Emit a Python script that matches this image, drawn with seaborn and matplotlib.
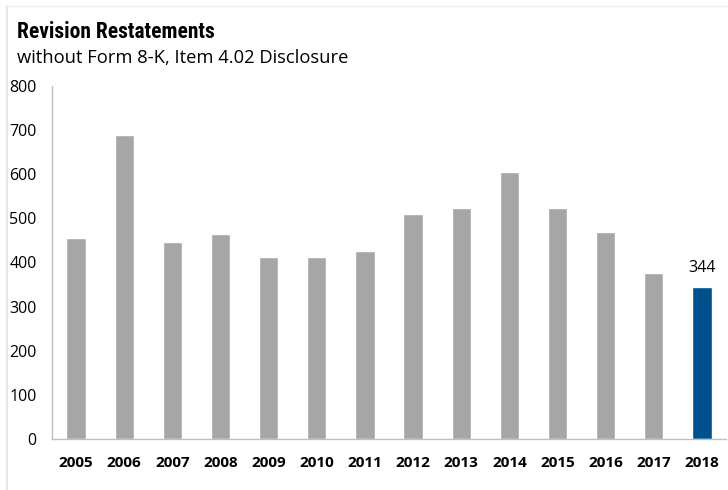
import matplotlib
matplotlib.use("Agg")
import matplotlib.pyplot as plt
import seaborn as sns
import pandas as pd
from matplotlib.lines import Line2D
from matplotlib.ticker import FixedLocator

years = ["2005", "2006", "2007", "2008", "2009", "2010", "2011",
         "2012", "2013", "2014", "2015", "2016", "2017", "2018"]
counts = [456, 690, 446, 465, 412, 412, 426, 510, 524, 605, 524, 470, 376, 344]
highlight_year = "2018"
yticks = [0, 100, 200, 300, 400, 500, 600, 700, 800]

title = "Revision Restatements"
subtitle = "without Form 8-K, Item 4.02 Disclosure"

sns.set_style("white")
plt.rcParams['font.family'] = ['Open Sans', 'DejaVu Sans']
plt.rcParams['text.color'] = "#000000"
plt.rcParams['xtick.color'] = "#000000"
plt.rcParams['ytick.color'] = "#000000"

df = pd.DataFrame({"year": years, "count": counts})
palette = {y: ("#00508E" if y == highlight_year else "#A6A6A6") for y in years}

fig = plt.figure(figsize=(7.28, 4.9), dpi=100)
ax = fig.add_axes([52/728, 1-439/490, (726-52)/728, (439-86)/490])

sns.barplot(data=df, x="year", y="count", hue="year", palette=palette,
            width=0.4, legend=False, ax=ax, saturation=1)

ax.set_xlim(-0.5, len(years) - 0.5)
ax.set_ylim(0, 800)
ax.set_yticks(yticks)
ax.set_yticklabels([str(v) for v in yticks], fontsize=11.5, color="#000000")
ax.set_xlabel("")
ax.set_ylabel("")
for lbl in ax.get_xticklabels():
    lbl.set_fontweight("bold")
    lbl.set_fontsize(11)
    lbl.set_color("#000000")
ax.tick_params(axis="x", which="major", length=0, pad=12)
ax.xaxis.set_minor_locator(FixedLocator([i + 0.5 for i in range(-1, len(years))]))
ax.tick_params(axis="x", which="minor", length=5, color="#BFBFBF", width=1)
ax.tick_params(axis="y", which="major", length=4, color="#BFBFBF", width=1, pad=7)

for s in ["top", "right"]:
    ax.spines[s].set_visible(False)
for s in ["left", "bottom"]:
    ax.spines[s].set_color("#BFBFBF")
    ax.spines[s].set_linewidth(1)

# data label
idx = years.index(highlight_year)
ax.text(idx, counts[idx] + 25, str(counts[idx]), ha="center", va="bottom",
        fontsize=11.5, color="#000000")

fig.text(17/728, 1-38/490, title, fontsize=15.5, fontweight="bold",
         family=['Roboto Condensed', 'DejaVu Sans'], ha="left", va="baseline",
         color="#000000")
fig.text(17/728, 1-63/490, subtitle, fontsize=13.2, ha="left", va="baseline",
         color="#000000")

# faint frame on left/top
fig.add_artist(Line2D([7/728, 7/728], [0, 1-6/490], transform=fig.transFigure,
                      color="#E6E6E6", linewidth=1.5))
fig.add_artist(Line2D([7/728, 1], [1-6/490, 1-6/490], transform=fig.transFigure,
                      color="#EEEEEE", linewidth=1))

fig.savefig("out.png", dpi=100)
